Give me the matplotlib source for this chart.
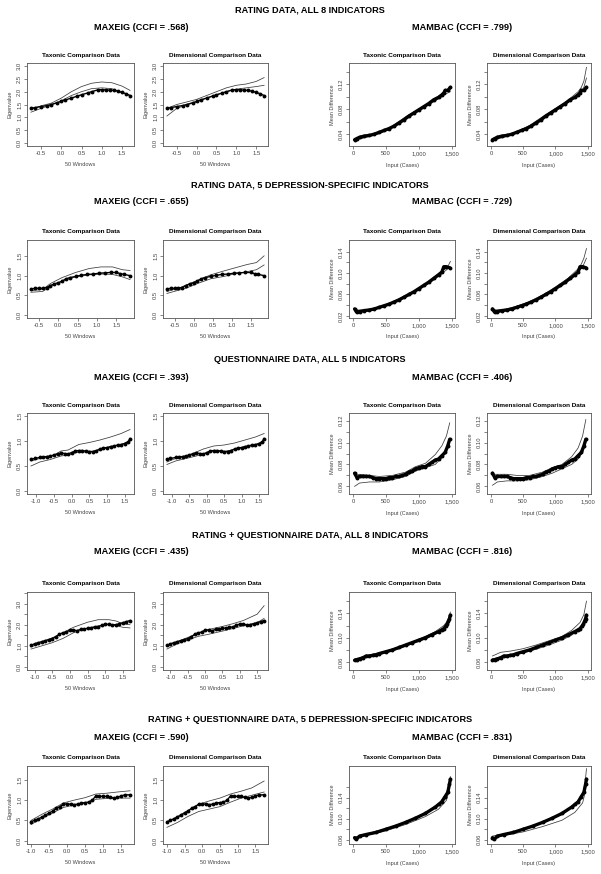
import numpy as np
import matplotlib
matplotlib.use("Agg")
import matplotlib.pyplot as plt

plt.rcParams['font.family'] = ['Liberation Sans', 'DejaVu Sans']

W, H = 601, 874

ROW_TITLES = ["RATING DATA, ALL 8 INDICATORS",
              "RATING DATA, 5 DEPRESSION-SPECIFIC INDICATORS",
              "QUESTIONNAIRE DATA, ALL 5 INDICATORS",
              "RATING + QUESTIONNAIRE DATA, ALL 8 INDICATORS",
              "RATING + QUESTIONNAIRE DATA, 5 DEPRESSION-SPECIFIC INDICATORS"]
EIG_CCFI = [".568", ".655", ".393", ".435", ".590"]
MAM_CCFI = [".799", ".729", ".406", ".816", ".831"]

# ---------------- MAXEIG data ----------------
r1_eig_x = [-0.75, -0.65, -0.5, -0.35, -0.25, -0.1, 0, 0.1, 0.25, 0.4, 0.5, 0.65, 0.75, 0.9, 1.0, 1.1, 1.2, 1.3, 1.4, 1.5, 1.6, 1.7]
r1_eig_y = [1.35, 1.38, 1.42, 1.46, 1.50, 1.57, 1.62, 1.68, 1.75, 1.83, 1.88, 1.95, 2.0, 2.07, 2.08, 2.07, 2.06, 2.05, 2.02, 1.97, 1.92, 1.85]
r1_eig_bx = [-0.75, -0.5, -0.25, 0, 0.25, 0.5, 0.75, 1.0, 1.25, 1.5, 1.7]
r1_eig_tax_hi = [1.30, 1.45, 1.55, 1.75, 2.0, 2.2, 2.33, 2.38, 2.35, 2.22, 2.05]
r1_eig_tax_lo = [1.20, 1.35, 1.48, 1.65, 1.85, 2.0, 2.12, 2.15, 2.12, 1.97, 1.85]
r1_eig_dim_hi = [1.35, 1.50, 1.60, 1.70, 1.85, 2.0, 2.15, 2.25, 2.3, 2.4, 2.55]
r1_eig_dim_lo = [1.05, 1.35, 1.48, 1.60, 1.75, 1.88, 2.0, 2.1, 2.15, 2.2, 2.25]

r2_eig_x = [-0.7, -0.6, -0.5, -0.4, -0.3, -0.2, -0.1, 0, 0.1, 0.2, 0.3, 0.45, 0.6, 0.75, 0.9, 1.05, 1.2, 1.35, 1.5, 1.6, 1.7, 1.85]
r2_eig_y = [0.66, 0.68, 0.68, 0.68, 0.70, 0.75, 0.79, 0.82, 0.86, 0.92, 0.95, 0.98, 1.01, 1.03, 1.04, 1.06, 1.07, 1.08, 1.08, 1.05, 1.03, 1.00]
r2_eig_bx = [-0.7, -0.4, -0.2, 0.1, 0.45, 0.8, 1.1, 1.4, 1.65, 1.85]
r2_eig_tax_hi = [0.62, 0.65, 0.8, 0.95, 1.08, 1.18, 1.22, 1.22, 1.15, 1.13]
r2_eig_tax_lo = [0.58, 0.60, 0.72, 0.86, 0.97, 1.02, 1.04, 1.03, 0.97, 0.90]
r2_eig_dim_hi = [0.60, 0.68, 0.76, 0.88, 1.02, 1.12, 1.2, 1.28, 1.33, 1.5]
r2_eig_dim_lo = [0.55, 0.63, 0.68, 0.8, 0.92, 0.98, 1.05, 1.1, 1.15, 1.27]

r3_eig_x = [-1.15, -1.05, -0.9, -0.8, -0.7, -0.6, -0.5, -0.4, -0.3, -0.2, -0.1, 0, 0.1, 0.2, 0.3, 0.4, 0.5, 0.6, 0.7, 0.8, 0.9, 1.0, 1.1, 1.2, 1.3, 1.4, 1.5, 1.6, 1.65]
r3_eig_y = [0.63, 0.65, 0.67, 0.68, 0.69, 0.70, 0.72, 0.74, 0.76, 0.75, 0.74, 0.77, 0.80, 0.81, 0.81, 0.80, 0.79, 0.79, 0.81, 0.84, 0.86, 0.87, 0.89, 0.90, 0.92, 0.93, 0.95, 0.99, 1.05]
r3_eig_bx = [-1.15, -0.9, -0.6, -0.3, -0.1, 0.2, 0.5, 0.8, 1.1, 1.4, 1.65]
r3_eig_tax_hi = [0.60, 0.65, 0.68, 0.80, 0.82, 0.93, 0.97, 1.02, 1.08, 1.15, 1.23]
r3_eig_tax_lo = [0.50, 0.58, 0.63, 0.70, 0.72, 0.78, 0.78, 0.82, 0.88, 0.93, 1.00]
r3_eig_dim_hi = [0.58, 0.65, 0.70, 0.78, 0.84, 0.90, 0.92, 0.96, 1.02, 1.08, 1.15]
r3_eig_dim_lo = [0.53, 0.60, 0.65, 0.70, 0.74, 0.80, 0.79, 0.83, 0.88, 0.92, 0.97]

r4_eig_x = [-1.1, -1.0, -0.9, -0.8, -0.7, -0.6, -0.5, -0.4, -0.3, -0.2, -0.1, 0, 0.1, 0.2, 0.3, 0.4, 0.5, 0.6, 0.7, 0.8, 0.9, 1.0, 1.1, 1.2, 1.3, 1.4, 1.5, 1.6, 1.7]
r4_eig_y = [1.02, 1.1, 1.15, 1.2, 1.25, 1.3, 1.35, 1.42, 1.55, 1.62, 1.65, 1.75, 1.75, 1.72, 1.78, 1.8, 1.83, 1.85, 1.88, 1.9, 1.98, 2.03, 2.02, 2.0, 2.0, 2.05, 2.1, 2.15, 2.2]
r4_eig_bx = [-1.1, -0.8, -0.5, -0.2, 0.1, 0.5, 0.8, 1.1, 1.3, 1.5, 1.7]
r4_eig_tax_hi = [0.95, 1.15, 1.38, 1.62, 1.88, 2.12, 2.24, 2.24, 2.18, 2.05, 2.0]
r4_eig_tax_lo = [0.85, 1.0, 1.15, 1.35, 1.62, 1.85, 1.95, 2.0, 1.96, 1.88, 1.85]
r4_eig_dim_hi = [1.0, 1.2, 1.4, 1.6, 1.78, 1.92, 2.05, 2.2, 2.35, 2.5, 2.9]
r4_eig_dim_lo = [0.85, 1.1, 1.28, 1.45, 1.55, 1.7, 1.82, 1.95, 2.03, 2.1, 2.3]

r5_eig_x = [-1.0, -0.9, -0.8, -0.7, -0.6, -0.5, -0.4, -0.3, -0.2, -0.1, 0, 0.1, 0.2, 0.3, 0.4, 0.5, 0.6, 0.7, 0.8, 0.9, 1.0, 1.1, 1.2, 1.3, 1.4, 1.5, 1.6, 1.75]
r5_eig_y = [0.47, 0.5, 0.54, 0.58, 0.63, 0.68, 0.73, 0.8, 0.84, 0.9, 0.91, 0.9, 0.89, 0.9, 0.93, 0.94, 0.95, 1.0, 1.1, 1.1, 1.09, 1.09, 1.07, 1.05, 1.07, 1.1, 1.13, 1.13]
r5_eig_bx = [-1.0, -0.7, -0.4, -0.1, 0.2, 0.5, 0.8, 1.1, 1.4, 1.75]
r5_eig_tax_hi = [0.50, 0.65, 0.78, 0.93, 1.0, 1.06, 1.15, 1.17, 1.2, 1.23]
r5_eig_tax_lo = [0.40, 0.55, 0.68, 0.82, 0.88, 0.92, 1.02, 1.04, 1.05, 1.05]
r5_eig_dim_hi = [0.45, 0.6, 0.75, 0.9, 0.98, 1.05, 1.15, 1.22, 1.3, 1.47]
r5_eig_dim_lo = [0.33, 0.45, 0.6, 0.72, 0.78, 0.84, 0.95, 1.05, 1.12, 1.2]

# ---------------- MAMBAC data ----------------
r1_mam_x = [25, 60, 100, 175, 250, 325, 400, 475, 550, 625, 700, 775, 850, 925, 1000, 1075, 1150, 1225, 1300, 1350, 1380, 1400, 1440, 1480]
r1_mam_y = [0.031, 0.033, 0.035, 0.037, 0.038, 0.040, 0.043, 0.046, 0.049, 0.053, 0.058, 0.063, 0.069, 0.074, 0.079, 0.084, 0.089, 0.095, 0.099, 0.103, 0.106, 0.110, 0.110, 0.115]
r1_mam_bx = [25, 200, 400, 600, 800, 1000, 1200, 1350, 1400, 1440, 1480]
r1_mam_tax_hi = [0.032, 0.037, 0.043, 0.053, 0.068, 0.080, 0.093, 0.104, 0.108, 0.110, 0.113]
r1_mam_tax_lo = [0.030, 0.035, 0.041, 0.051, 0.065, 0.077, 0.090, 0.100, 0.104, 0.106, 0.108]
r1_mam_dim_hi = [0.032, 0.037, 0.044, 0.054, 0.068, 0.081, 0.095, 0.108, 0.115, 0.125, 0.147]
r1_mam_dim_lo = [0.030, 0.035, 0.042, 0.052, 0.066, 0.078, 0.092, 0.104, 0.109, 0.115, 0.130]

r2_mam_x = [25, 45, 60, 100, 175, 250, 325, 400, 475, 550, 625, 700, 775, 850, 925, 1000, 1075, 1150, 1225, 1300, 1350, 1380, 1420, 1470]
r2_mam_y = [0.033, 0.030, 0.027, 0.028, 0.030, 0.031, 0.033, 0.036, 0.039, 0.042, 0.046, 0.050, 0.055, 0.060, 0.065, 0.071, 0.077, 0.083, 0.090, 0.097, 0.102, 0.112, 0.112, 0.110]
r2_mam_bx = [25, 200, 400, 600, 800, 1000, 1200, 1350, 1400, 1440, 1480]
r2_mam_tax_hi = [0.031, 0.031, 0.037, 0.046, 0.058, 0.072, 0.088, 0.103, 0.108, 0.112, 0.122]
r2_mam_tax_lo = [0.029, 0.029, 0.035, 0.044, 0.055, 0.069, 0.085, 0.099, 0.104, 0.108, 0.110]
r2_mam_dim_hi = [0.031, 0.032, 0.038, 0.047, 0.059, 0.074, 0.091, 0.108, 0.117, 0.128, 0.146]
r2_mam_dim_lo = [0.029, 0.030, 0.036, 0.045, 0.056, 0.070, 0.087, 0.103, 0.110, 0.117, 0.128]

r3_mam_x = [25, 60, 100, 150, 200, 250, 300, 350, 400, 450, 500, 550, 600, 650, 700, 750, 800, 850, 900, 950, 1000, 1050, 1100, 1150, 1200, 1250, 1300, 1350, 1400, 1440, 1470]
r3_mam_y = [0.072, 0.068, 0.069, 0.069, 0.069, 0.069, 0.068, 0.067, 0.067, 0.067, 0.067, 0.068, 0.068, 0.069, 0.069, 0.070, 0.071, 0.073, 0.074, 0.076, 0.077, 0.078, 0.078, 0.080, 0.082, 0.084, 0.085, 0.088, 0.091, 0.097, 0.103]
r3_mam_bx = [25, 100, 250, 400, 600, 800, 950, 1100, 1250, 1350, 1420, 1470]
r3_mam_tax_hi = [0.070, 0.071, 0.070, 0.069, 0.070, 0.073, 0.078, 0.081, 0.089, 0.097, 0.106, 0.118]
r3_mam_tax_lo = [0.060, 0.063, 0.064, 0.064, 0.066, 0.069, 0.074, 0.077, 0.080, 0.086, 0.093, 0.102]
r3_mam_dim_hi = [0.071, 0.071, 0.071, 0.070, 0.070, 0.073, 0.077, 0.080, 0.087, 0.095, 0.106, 0.121]
r3_mam_dim_lo = [0.061, 0.064, 0.065, 0.065, 0.066, 0.069, 0.072, 0.076, 0.080, 0.085, 0.091, 0.100]

r4_mam_x = [25, 60, 100, 150, 200, 250, 300, 350, 400, 500, 600, 700, 800, 900, 1000, 1100, 1200, 1300, 1350, 1380, 1410, 1430, 1450, 1465, 1480]
r4_mam_y = [0.063, 0.064, 0.065, 0.067, 0.070, 0.070, 0.071, 0.072, 0.074, 0.077, 0.080, 0.084, 0.088, 0.092, 0.096, 0.100, 0.105, 0.110, 0.113, 0.115, 0.119, 0.122, 0.127, 0.131, 0.137]
r4_mam_bx = [25, 150, 300, 500, 700, 900, 1100, 1250, 1380, 1440, 1480]
r4_mam_tax_hi = [0.065, 0.069, 0.073, 0.078, 0.085, 0.093, 0.102, 0.110, 0.120, 0.128, 0.142]
r4_mam_tax_lo = [0.062, 0.066, 0.070, 0.075, 0.082, 0.090, 0.098, 0.106, 0.114, 0.122, 0.135]
r4_mam_dim_hi = [0.070, 0.076, 0.078, 0.082, 0.088, 0.095, 0.102, 0.112, 0.125, 0.138, 0.160]
r4_mam_dim_lo = [0.065, 0.069, 0.071, 0.075, 0.081, 0.088, 0.096, 0.104, 0.115, 0.123, 0.135]

r5_mam_x = [25, 50, 100, 200, 350, 500, 650, 800, 950, 1100, 1250, 1300, 1350, 1400, 1440, 1465, 1480]
r5_mam_y = [0.064, 0.061, 0.067, 0.070, 0.074, 0.080, 0.086, 0.093, 0.101, 0.110, 0.122, 0.127, 0.132, 0.142, 0.150, 0.165, 0.175]
r5_mam_bx = [25, 200, 500, 800, 1100, 1300, 1420, 1460, 1480]
r5_mam_tax_hi = [0.065, 0.071, 0.081, 0.094, 0.111, 0.128, 0.148, 0.165, 0.180]
r5_mam_tax_lo = [0.062, 0.068, 0.077, 0.089, 0.104, 0.118, 0.135, 0.152, 0.170]
r5_mam_dim_hi = [0.067, 0.071, 0.080, 0.092, 0.108, 0.125, 0.145, 0.170, 0.195]
r5_mam_dim_lo = [0.062, 0.068, 0.075, 0.085, 0.097, 0.112, 0.130, 0.150, 0.170]

# axis settings per row: (ylim, ticks start, stop, step, label every n)
EIG_YLIM = [(-0.12, 3.12), (-0.07, 1.9), (-0.06, 1.56), (-0.14, 3.55), (-0.08, 1.84)]
EIG_YTICKS = [(0.0, 3.0, 0.5, 1), (0.0, 1.5, 0.5, 1), (0.0, 1.5, 0.5, 1), (0.0, 3.5, 0.5, 2), (0.0, 1.5, 0.5, 1)]
EIG_XTICKS = [(-0.5, 1.5), (-0.5, 1.5), (-1.0, 1.5), (-1.0, 1.5), (-1.0, 1.5)]
MAM_YLIM = [(0.021, 0.154), (0.016, 0.162), (0.053, 0.127), (0.047, 0.175), (0.052, 0.2)]
MAM_YTICKS = [(0.04, 0.14, 0.02, 2), (0.02, 0.14, 0.02, 2), (0.06, 0.12, 0.01, 2), (0.06, 0.16, 0.02, 2), (0.06, 0.16, 0.02, 2)]
MAM_XTICKS = [0, 500, 1000, 1500]
MAM_XLABELS = ["0", "500", "1,000", "1,500"]

eig_data = [
    (r1_eig_x, r1_eig_y, r1_eig_bx, r1_eig_tax_hi, r1_eig_tax_lo, r1_eig_dim_hi, r1_eig_dim_lo),
    (r2_eig_x, r2_eig_y, r2_eig_bx, r2_eig_tax_hi, r2_eig_tax_lo, r2_eig_dim_hi, r2_eig_dim_lo),
    (r3_eig_x, r3_eig_y, r3_eig_bx, r3_eig_tax_hi, r3_eig_tax_lo, r3_eig_dim_hi, r3_eig_dim_lo),
    (r4_eig_x, r4_eig_y, r4_eig_bx, r4_eig_tax_hi, r4_eig_tax_lo, r4_eig_dim_hi, r4_eig_dim_lo),
    (r5_eig_x, r5_eig_y, r5_eig_bx, r5_eig_tax_hi, r5_eig_tax_lo, r5_eig_dim_hi, r5_eig_dim_lo),
]
mam_data = [
    (r1_mam_x, r1_mam_y, r1_mam_bx, r1_mam_tax_hi, r1_mam_tax_lo, r1_mam_dim_hi, r1_mam_dim_lo),
    (r2_mam_x, r2_mam_y, r2_mam_bx, r2_mam_tax_hi, r2_mam_tax_lo, r2_mam_dim_hi, r2_mam_dim_lo),
    (r3_mam_x, r3_mam_y, r3_mam_bx, r3_mam_tax_hi, r3_mam_tax_lo, r3_mam_dim_hi, r3_mam_dim_lo),
    (r4_mam_x, r4_mam_y, r4_mam_bx, r4_mam_tax_hi, r4_mam_tax_lo, r4_mam_dim_hi, r4_mam_dim_lo),
    (r5_mam_x, r5_mam_y, r5_mam_bx, r5_mam_tax_hi, r5_mam_tax_lo, r5_mam_dim_hi, r5_mam_dim_lo),
]

# pixel layout
BOX_TOP = [63, 240, 413, 592, 766]
BOX_BOT = [146, 318, 494, 670, 844]
HEAD_Y = [10, 185, 360, 535, 720]
COLS = [(27, 134), (163, 268), (349, 455), (487, 591)]

GRAY = "#444444"


def fx(px):
    return px / W


def fy(py):
    return 1 - py / H


def style_axes(ax):
    for s in ax.spines.values():
        s.set_color("#555555")
        s.set_linewidth(0.6)
    ax.tick_params(length=2, width=0.5, color="#555555", labelsize=4.2,
                   labelcolor=GRAY, pad=1.5)
    ax.tick_params(axis="y", labelrotation=90)
    for t in ax.get_yticklabels():
        t.set_va("center")


fig = plt.figure(figsize=(W / 100, H / 100), dpi=100)

for r in range(5):
    top, bot = BOX_TOP[r], BOX_BOT[r]
    fig.text(fx(310), fy(HEAD_Y[r]), ROW_TITLES[r], ha="center", va="center",
             fontsize=6.6, fontweight="bold")
    fig.text(fx(141), fy(HEAD_Y[r] + 17), "MAXEIG (CCFI = %s)" % EIG_CCFI[r],
             ha="center", va="center", fontsize=6.6, fontweight="bold")
    fig.text(fx(462), fy(HEAD_Y[r] + 17), "MAMBAC (CCFI = %s)" % MAM_CCFI[r],
             ha="center", va="center", fontsize=6.6, fontweight="bold")

    for c in range(4):
        x0, x1 = COLS[c]
        ax = fig.add_axes([fx(x0), fy(bot), (x1 - x0) / W, (bot - top) / H])
        is_eig = c < 2
        data = eig_data[r] if is_eig else mam_data[r]
        dx, dy, bx, tax_hi, tax_lo, dim_hi, dim_lo = data
        hi, lo = (tax_hi, tax_lo) if c % 2 == 0 else (dim_hi, dim_lo)

        ax.plot(bx, hi, color="#3a3a3a", lw=0.55)
        ax.plot(bx, lo, color="#3a3a3a", lw=0.55)
        if is_eig:
            ax.plot(dx, dy, color="black", lw=1.0)
            ax.plot(dx, dy, "o", color="black", ms=2.8, mew=0)
        else:
            ax.plot(dx, dy, color="black", lw=2.4, solid_capstyle="round")
            ax.plot(dx, dy, "o", color="black", ms=2.8, mew=0)

        if is_eig:
            ax.set_ylim(*EIG_YLIM[r])
            lo_t, hi_t, step, every = EIG_YTICKS[r]
            xs = np.array(dx)
            span = xs.max() - xs.min()
            ax.set_xlim(xs.min() - 0.04 * span, xs.max() + 0.04 * span)
            t0, t1 = EIG_XTICKS[r]
            xt = np.arange(t0, t1 + 0.01, 0.5)
            ax.set_xticks(xt)
            ax.set_xticklabels(["%.1f" % v for v in xt])
            yfmt = "%.1f"
            xlabel, ylabel = "50 Windows", "Eigenvalue"
        else:
            ax.set_ylim(*MAM_YLIM[r])
            lo_t, hi_t, step, every = MAM_YTICKS[r]
            ax.set_xlim(-60, 1550)
            ax.set_xticks(MAM_XTICKS)
            ax.set_xticklabels(MAM_XLABELS)
            yfmt = "%.2f"
            xlabel, ylabel = "Input (Cases)", "Mean Difference"

        yt = np.arange(lo_t, hi_t + step / 10, step)
        ax.set_yticks(yt)
        ax.set_yticklabels([yfmt % v if i % every == 0 else "" for i, v in enumerate(yt)])
        style_axes(ax)

        title = "Taxonic Comparison Data" if c % 2 == 0 else "Dimensional Comparison Data"
        fig.text(fx((x0 + x1) / 2), fy(top - 8), title, ha="center", va="center",
                 fontsize=4.6, fontweight="bold")
        fig.text(fx((x0 + x1) / 2), fy(bot + 19), xlabel, ha="center", va="center",
                 fontsize=4.0, color=GRAY)
        fig.text(fx(x0 - 17), fy((top + bot) / 2), ylabel, ha="center", va="center",
                 fontsize=4.0, color=GRAY, rotation=90)

fig.savefig("out.png", dpi=100)
